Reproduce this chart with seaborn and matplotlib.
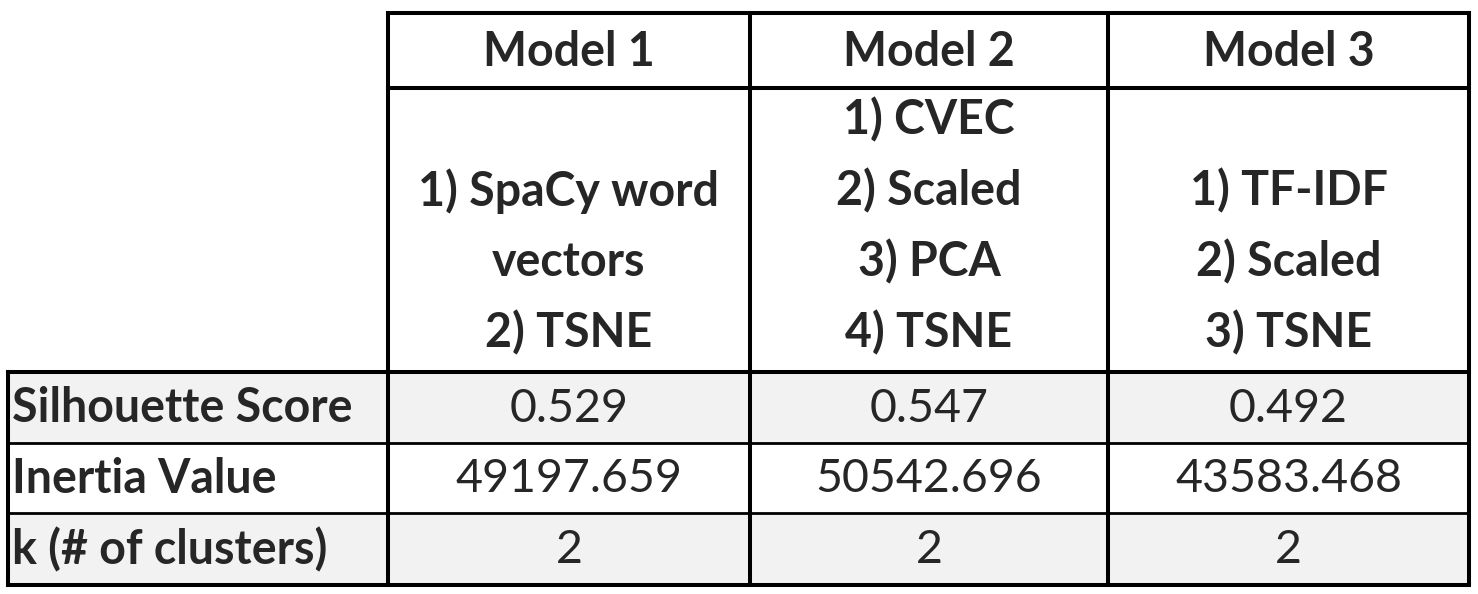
import matplotlib
matplotlib.use("Agg")
import matplotlib.pyplot as plt
import seaborn as sns
from matplotlib.patches import Rectangle

# table content
models = ["Model 1", "Model 2", "Model 3"]
pipelines = [
    ["1) SpaCy word", "vectors", "2) TSNE"],
    ["1) CVEC", "2) Scaled", "3) PCA", "4) TSNE"],
    ["1) TF-IDF", "2) Scaled", "3) TSNE"],
]
row_labels = ["Silhouette Score", "Inertia Value", "k (# of clusters)"]
silhouette = ["0.529", "0.547", "0.492"]
inertia = ["49197.659", "50542.696", "43583.468"]
k_clusters = ["2", "2", "2"]
row_fills = ["#f2f2f2", "#ffffff", "#f2f2f2"]

# layout (pixel grid of the picture)
col_edges = [8, 388, 750, 1108, 1469]
row_edges = [13, 88, 372, 443, 513, 585]
line_step = 71
last_line_y = 333

sns.set_theme(style="white")
plt.rcParams["font.family"] = ["Lato", "DejaVu Sans"]

fig = plt.figure(figsize=(14.78, 5.94), dpi=100)
ax = fig.add_axes([0, 0, 1, 1])
ax.set_xlim(0, 1478)
ax.set_ylim(594, 0)
ax.axis("off")

fs_head = 33.5
fs_body = 33.5

# shaded body rows
body = [silhouette, inertia, k_clusters]
for r, fill in enumerate(row_fills):
    y0, y1 = row_edges[r + 2], row_edges[r + 3]
    ax.add_patch(Rectangle((col_edges[0], y0), col_edges[-1] - col_edges[0], y1 - y0,
                           facecolor=fill, edgecolor="none", zorder=0))

# header text
for c, name in enumerate(models):
    xc = (col_edges[c + 1] + col_edges[c + 2]) / 2
    ax.text(xc, (row_edges[0] + row_edges[1]) / 2 + 2, name, ha="center", va="center",
            fontsize=fs_head, fontweight="bold")
    steps = pipelines[c]
    n = len(steps)
    for i, s in enumerate(steps):
        y = last_line_y - line_step * (n - 1 - i)
        ax.text(xc, y, s, ha="center", va="center", fontsize=fs_head, fontweight="bold")

# body text
for r, (label, vals) in enumerate(zip(row_labels, body)):
    yc = (row_edges[r + 2] + row_edges[r + 3]) / 2 + 1
    ax.text(col_edges[0] + 4, yc, label, ha="left", va="center",
            fontsize=fs_head, fontweight="bold")
    for c, v in enumerate(vals):
        xc = (col_edges[c + 1] + col_edges[c + 2]) / 2
        ax.text(xc, yc, v, ha="center", va="center", fontsize=fs_body)

# grid lines
thick = 2.9
thin = 2.0
kw = dict(color="black", solid_capstyle="projecting", zorder=3)
# header block outline
ax.plot([col_edges[1], col_edges[-1]], [row_edges[0], row_edges[0]], lw=thick, **kw)
ax.plot([col_edges[1], col_edges[-1]], [row_edges[1], row_edges[1]], lw=thick, **kw)
ax.plot([col_edges[0], col_edges[-1]], [row_edges[2], row_edges[2]], lw=thick, **kw)
ax.plot([col_edges[0], col_edges[-1]], [row_edges[3], row_edges[3]], lw=thin, **kw)
ax.plot([col_edges[0], col_edges[-1]], [row_edges[4], row_edges[4]], lw=thin, **kw)
ax.plot([col_edges[0], col_edges[-1]], [row_edges[5], row_edges[5]], lw=thick, **kw)
# verticals
ax.plot([col_edges[0], col_edges[0]], [row_edges[2], row_edges[5]], lw=thick, **kw)
for x in col_edges[1:]:
    ax.plot([x, x], [row_edges[0], row_edges[5]], lw=thick, **kw)

fig.savefig("out.png", dpi=100, facecolor="white")
